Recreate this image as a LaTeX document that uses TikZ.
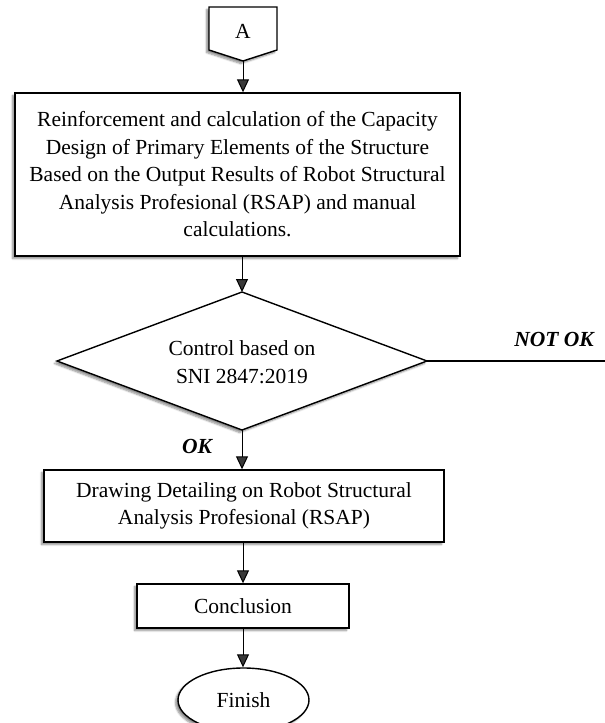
\documentclass[tikz,border=0pt]{standalone}
\usepackage{fontspec}
\setmainfont{Liberation Serif}
\usetikzlibrary{shapes.geometric,arrows.meta,shadows.blur}
\begin{document}
\begin{tikzpicture}[x=1pt,y=-1pt,
  shad/.style={blur shadow={shadow xshift=-2.5pt, shadow yshift=-2.5pt, shadow blur steps=6, shadow opacity=45}},
  txt/.style={font=\fontsize{21.5}{27.5}\selectfont, align=center},
  box/.style={draw, line width=1.4pt, fill=white, inner sep=0pt, txt, shad},
  arr/.style={line width=1pt, -{Triangle[length=13pt,width=12pt]}},
  lbl/.style={font=\fontsize{21.5}{27.5}\selectfont\bfseries\itshape}
]
\useasboundingbox (0,0) rectangle (605,723);

% off-page connector A
\path[draw, line width=1.4pt, fill=white, shad] (209,7) -- (277,7) -- (277,50) -- (243,61) -- (209,50) -- cycle;
\coordinate (Atip) at (243,61);
\node[txt] (A) at (243,31) {A};

\node[box, minimum width=445pt, minimum height=163pt] (main) at (237.5,174.5)
  {Reinforcement and calculation of the Capacity\\
   Design of Primary Elements of the Structure\\
   Based on the Output Results of Robot Structural\\
   Analysis Profesional (RSAP) and manual\\
   calculations.};

% decision diamond
\coordinate (dt) at (242,292);
\coordinate (dr) at (427,361);
\coordinate (db) at (242,430);
\coordinate (dl) at (57,361);
\path[draw, line width=1.4pt, fill=white, shad, line join=miter] (dt) -- (dr) -- (db) -- (dl) -- cycle;
\node[txt] (dia) at (242,362) {Control based on\\SNI 2847:2019};

\node[box, minimum width=400pt, minimum height=72pt] (draw) at (244,506)
  {Drawing Detailing on Robot Structural\\Analysis Profesional (RSAP)};

\node[box, minimum width=212pt, minimum height=44pt] (concl) at (243,606) {Conclusion};

\node[box, ellipse, minimum width=131pt, minimum height=64pt] (fin) at (243.5,700) {Finish};

\node[lbl] (ok) at (197,446) {OK};
\node[lbl] (notok) at (554,339) {NOT OK};
\coordinate (nend) at (605,361);

\draw[arr] (Atip) -- (Atip |- main.north);
\draw[arr] (main.south -| dt) -- (dt);
\draw[arr] (db) -- (db |- draw.north);
\draw[arr] (draw.south -| concl.north) -- (concl.north);
\draw[arr] (concl.south) -- (concl.south |- fin.north);
\draw[line width=1.4pt] (dr) -- (nend);
\end{tikzpicture}
\end{document}
